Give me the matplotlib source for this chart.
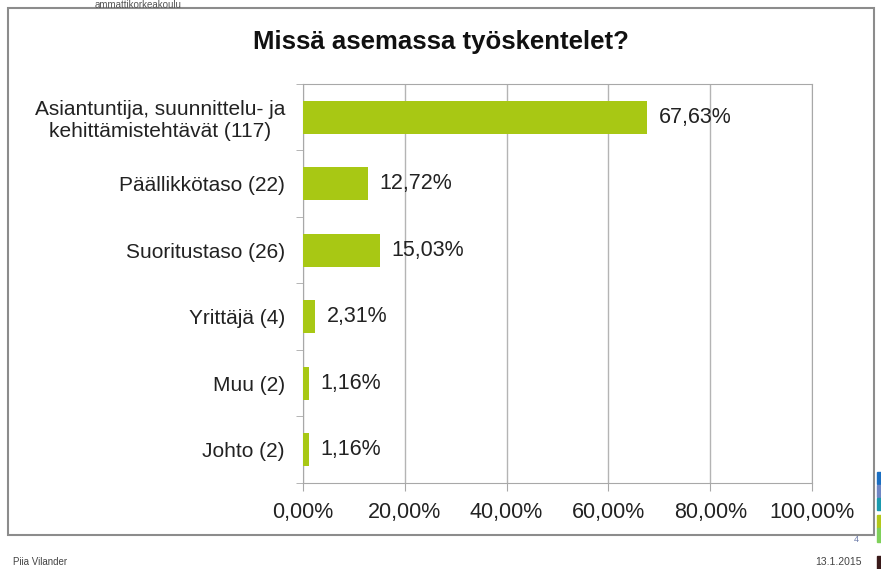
import matplotlib.pyplot as plt
from matplotlib.patches import Rectangle

plt.rcParams["font.family"] = ["Liberation Sans", "DejaVu Sans"]

categories = [
    "Asiantuntija, suunnittelu- ja\nkehittämistehtävät (117)",
    "Päällikkötaso (22)",
    "Suoritustaso (26)",
    "Yrittäjä (4)",
    "Muu (2)",
    "Johto (2)",
]
shares = [67.63, 12.72, 15.03, 2.31, 1.16, 1.16]
xticks = [0, 20, 40, 60, 80, 100]
strip_colors = ["#1b6fc2", "#6f86c4", "#1a9aae", "#b3c81a", "#7fd05a"]
strip_spans = [(472, 484), (485, 497), (498, 510), (515, 528), (528, 542)]

W, H = 881, 569
fig = plt.figure(figsize=(W / 100, H / 100), dpi=100)
fig.patch.set_facecolor("white")


def px(x, y):
    return x / W, 1 - y / H


def fmt(v):
    return f"{v:.2f}%".replace(".", ",")


# slide frame around the chart
x0, y0 = px(8, 535)
x1, y1 = px(874, 8)
fig.patches.append(Rectangle((x0, y0), x1 - x0, y1 - y0, transform=fig.transFigure,
                             fill=False, edgecolor="#8c8c8c", linewidth=1.5))

ax = fig.add_axes([303 / W, 1 - 483 / H, (812 - 303) / W, (483 - 84) / H])
ypos = list(range(len(categories)))
ax.barh(ypos, shares, height=0.5, color="#a8c814", zorder=3)
for y, v in zip(ypos, shares):
    ax.text(v + 2.3, y, fmt(v), va="center", ha="left", fontsize=15.5, color="#222222")

ax.set_xlim(0, 100)
ax.set_ylim(len(categories) - 0.5, -0.5)
ax.set_xticks(xticks)
ax.set_xticklabels([fmt(t) for t in xticks], fontsize=15.5, color="#222222")
ax.set_yticks(ypos)
ax.set_yticklabels(categories, fontsize=15, color="#222222", ha="right",
                   multialignment="center")
ax.tick_params(axis="y", length=0, pad=13)
ax.set_yticks([i + 0.5 for i in range(-1, len(categories))], minor=True)
ax.tick_params(axis="y", which="minor", length=5, color="#a8a8a8")
ax.tick_params(axis="x", length=6, color="#a8a8a8", pad=8)
ax.grid(axis="x", color="#b4b4b4", linewidth=1, zorder=0)
for side in ["left", "bottom", "top", "right"]:
    ax.spines[side].set_color("#a8a8a8")

fig.text(*px(441, 42), "Missä asemassa työskentelet?", ha="center", va="center",
         fontsize=18.5, fontweight="bold", color="#111111")

# slide decorations
fig.text(*px(95, 0), "ammattikorkeakoulu", fontsize=7, color="#555555", va="top")
fig.text(*px(13, 562), "Piia Vilander", fontsize=7, color="#444444", va="center")
fig.text(*px(862, 562), "13.1.2015", fontsize=7.5, color="#444444", va="center", ha="right")
fig.text(*px(856, 540), "4", fontsize=6.5, color="#6b7aa8", va="center", ha="center")
for c, (top, bottom) in zip(strip_colors, strip_spans):
    sx, sy = px(877, bottom)
    fig.patches.append(Rectangle((sx, sy), 4 / W, (bottom - top) / H,
                                 transform=fig.transFigure, color=c))
sx, sy = px(877, 569)
fig.patches.append(Rectangle((sx, sy), 4 / W, 13 / H, transform=fig.transFigure,
                             color="#3a1a1a"))

fig.savefig("out.png", dpi=100)
